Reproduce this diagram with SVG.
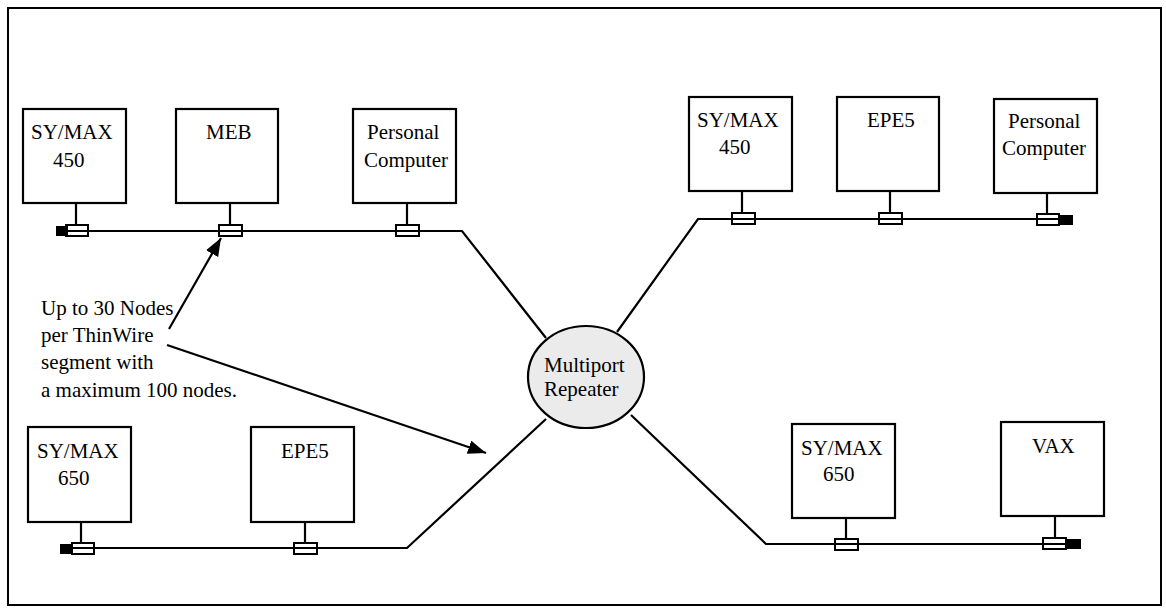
<svg xmlns="http://www.w3.org/2000/svg" width="1166" height="609" viewBox="0 0 1166 609">
<style>
.box{fill:#fff;stroke:#000;stroke-width:2.2}
.ln{fill:none;stroke:#000;stroke-width:2.2}
.tap{fill:none;stroke:#000;stroke-width:2}
.term{fill:#000}
text{font-family:"Liberation Serif","Times New Roman",serif;font-size:21px;fill:#000}
</style>
<defs>
<marker id="ah" markerUnits="userSpaceOnUse" markerWidth="22" markerHeight="16" refX="18" refY="7" orient="auto" viewBox="0 0 22 16">
<path d="M0,0 L18,7 L0,14 z" fill="#000"/>
</marker>
</defs>
<rect x="8" y="8" width="1153" height="597" fill="#fff" stroke="#000" stroke-width="2"/>
<g id="connectors">
<!-- top-left segment -->
<polyline class="ln" points="60,231 462,231 546,338"/>
<line class="ln" x1="76" y1="203" x2="76" y2="225"/>
<line class="ln" x1="230" y1="203" x2="230" y2="225"/>
<line class="ln" x1="407" y1="203" x2="407" y2="225"/>
<rect class="term" x="56" y="226" width="12" height="10"/>
<rect class="tap" x="66" y="225" width="22" height="11"/>
<rect class="tap" x="219" y="225" width="23" height="11"/>
<rect class="tap" x="396" y="225" width="23" height="11"/>
<!-- top-right segment -->
<polyline class="ln" points="617,332 698,219 1066,219"/>
<line class="ln" x1="742" y1="191" x2="742" y2="213"/>
<line class="ln" x1="890" y1="191" x2="890" y2="213"/>
<line class="ln" x1="1047" y1="193" x2="1047" y2="214"/>
<rect class="tap" x="732" y="213" width="23" height="11"/>
<rect class="tap" x="879" y="213" width="23" height="11"/>
<rect class="term" x="1058" y="215" width="15" height="10"/>
<rect class="tap" x="1037" y="214" width="22" height="11"/>
<!-- bottom-left segment -->
<polyline class="ln" points="64,548 407,548 546,419"/>
<line class="ln" x1="81" y1="522" x2="81" y2="543"/>
<line class="ln" x1="305" y1="522" x2="305" y2="543"/>
<rect class="term" x="60" y="544" width="13" height="10"/>
<rect class="tap" x="72" y="543" width="22" height="11"/>
<rect class="tap" x="294" y="543" width="23" height="11"/>
<!-- bottom-right segment -->
<polyline class="ln" points="631,415 766,544 1075,544"/>
<line class="ln" x1="846" y1="518" x2="846" y2="539"/>
<line class="ln" x1="1055" y1="516" x2="1055" y2="538"/>
<rect class="tap" x="835" y="539" width="23" height="11"/>
<rect class="term" x="1065" y="539" width="16" height="10"/>
<rect class="tap" x="1043" y="538" width="23" height="11"/>
<!-- annotation arrows -->
<line class="ln" x1="169" y1="329" x2="221" y2="238" marker-end="url(#ah)"/>
<line class="ln" x1="167" y1="345" x2="486" y2="453" marker-end="url(#ah)"/>
</g>
<g id="symax450-a"><rect class="box" x="23" y="109" width="103" height="94"/><text x="31" y="139">SY/MAX</text><text x="53" y="167">450</text></g>
<g id="meb"><rect class="box" x="176" y="109" width="102" height="94"/><text x="206" y="139">MEB</text></g>
<g id="pc-a"><rect class="box" x="353" y="109" width="103" height="94"/><text x="367" y="139">Personal</text><text x="364" y="167">Computer</text></g>
<g id="symax450-b"><rect class="box" x="689" y="97" width="103" height="94"/><text x="697" y="127">SY/MAX</text><text x="719" y="154">450</text></g>
<g id="epe5-a"><rect class="box" x="837" y="97" width="102" height="94"/><text x="867" y="127">EPE5</text></g>
<g id="pc-b"><rect class="box" x="994" y="99" width="103" height="94"/><text x="1008" y="128">Personal</text><text x="1002" y="155">Computer</text></g>
<g id="symax650-a"><rect class="box" x="28" y="427" width="103" height="95"/><text x="37" y="458">SY/MAX</text><text x="58" y="485">650</text></g>
<g id="epe5-b"><rect class="box" x="251" y="427" width="103" height="95"/><text x="281" y="458">EPE5</text></g>
<g id="symax650-b"><rect class="box" x="792" y="424" width="103" height="94"/><text x="801" y="455">SY/MAX</text><text x="823" y="481">650</text></g>
<g id="vax"><rect class="box" x="1001" y="422" width="103" height="94"/><text x="1032" y="453">VAX</text></g>
<g id="repeater"><ellipse cx="586" cy="377" rx="58" ry="51" fill="#ebebeb" stroke="#000" stroke-width="2.2"/><text x="544" y="372">Multiport</text><text x="544" y="396">Repeater</text></g>
<g id="note"><text x="41" y="315">Up to 30 Nodes</text><text x="41" y="342">per ThinWire</text><text x="41" y="369">segment with</text><text x="41" y="397">a maximum 100 nodes.</text></g>
</svg>
